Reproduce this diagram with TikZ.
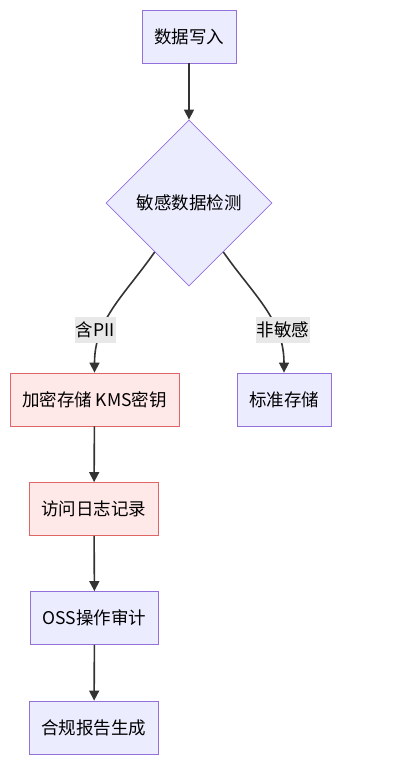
\documentclass[tikz,border=0pt]{standalone}
\usepackage{fontspec}
\setmainfont{Noto Sans CJK SC}
\usepackage{xcolor}
\usetikzlibrary{arrows.meta,shapes.geometric}

\definecolor{procfill}{HTML}{ECECFF}
\definecolor{procline}{HTML}{9370DB}
\definecolor{warnfill}{HTML}{FFE8E8}
\definecolor{warnline}{HTML}{E06666}
\definecolor{edgeline}{HTML}{333333}
\definecolor{tagfill}{HTML}{E8E8E8}

\begin{document}
\begin{tikzpicture}[
  x=1pt,y=1pt,
  box/.style={rectangle,draw=procline,fill=procfill,line width=0.8pt,
    minimum height=53pt,inner xsep=12pt,inner ysep=0pt},
  warnbox/.style={box,draw=warnline,fill=warnfill},
  check/.style={diamond,draw=procline,fill=procfill,line width=0.8pt,
    minimum width=166pt,minimum height=166pt,inner sep=0pt},
  tag/.style={fill=tagfill,inner xsep=1pt,inner ysep=5pt},
  flow/.style={draw=edgeline,line width=1.6pt},
  arr/.style={flow,-{Triangle[length=10pt,width=10pt]}},
  font=\fontsize{17.5pt}{21pt}\selectfont
]
\useasboundingbox (0,0) rectangle (408,763);
\node[box] (write) at (189,726.5) {数据写入};
\node[check] (detect) at (189,560) {敏感数据检测};
\node[warnbox] (enc) at (94.5,363.5) {加密存储 KMS密钥};
\node[box] (std) at (284,363.5) {标准存储};
\node[warnbox] (log) at (94,254) {访问日志记录};
\node[box] (audit) at (94.5,145) {OSS操作审计};
\node[box] (report) at (94,35.5) {合规报告生成};
\draw[arr] (write) -- (detect);
% branches with their labels on the curve
\draw[arr] (detect) to[out=-125,in=90]
  node[tag,pos=0.69,xshift=-7pt] (pii) {含PII} (enc);
\draw[arr] (detect) to[out=-55,in=90]
  node[tag,pos=0.69,xshift=7pt] (plain) {非敏感} (std);
\draw[arr] (enc) -- (log);
\draw[arr] (log) -- (audit);
\draw[arr] (audit) -- (report);
\end{tikzpicture}
\end{document}
